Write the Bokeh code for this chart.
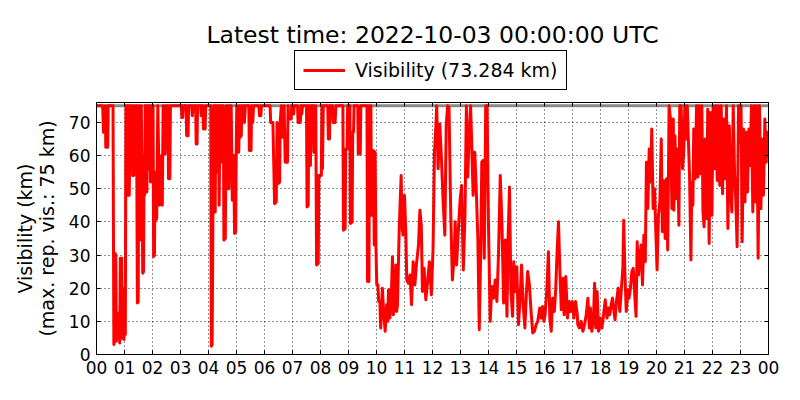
from bokeh.plotting import figure
from bokeh.layouts import column
from bokeh.models import (Range1d, FixedTicker, LinearAxis, Label, Legend, LegendItem, Span,
                          CustomJSTickFormatter)
from bokeh.embed import file_html
from bokeh.resources import INLINE

TITLE = "Latest time: 2022-10-03 00:00:00 UTC"
LEGEND_LABEL = "Visibility (73.284 km)"
Y_LABEL = "Visibility (km)\n(max. rep. vis.: 75 km)"
MAX_REPORTED = 75
X_TICKS = list(range(25))
X_TICK_LABELS = ["00", "01", "02", "03", "04", "05", "06", "07", "08", "09", "10", "11",
                 "12", "13", "14", "15", "16", "17", "18", "19", "20", "21", "22", "23", "00"]
Y_TICKS = [0, 10, 20, 30, 40, 50, 60, 70]

# (hour of day, visibility km)
vis_00_01 = [(0.00, 75), (0.22, 75), (0.25, 67), (0.30, 67), (0.32, 75), (0.33, 62.5), (0.40, 62.5),
             (0.42, 75), (0.59, 75), (0.62, 3), (0.64, 5), (0.66, 30.5), (0.69, 30), (0.71, 4),
             (0.74, 12.5), (0.77, 5), (0.80, 12.5), (0.83, 3.5), (0.85, 29), (0.90, 29), (0.92, 5),
             (0.95, 8), (0.98, 4.5), (1.01, 20), (1.03, 6), (1.05, 75)]
vis_01_02 = [(1.08, 75), (1.10, 48), (1.14, 75), (1.17, 48), (1.20, 75), (1.24, 62), (1.27, 75),
             (1.29, 54), (1.33, 54), (1.36, 75), (1.40, 60), (1.43, 75), (1.46, 15.5), (1.49, 16),
             (1.51, 75), (1.53, 50), (1.55, 34.5), (1.58, 60), (1.60, 75), (1.63, 50), (1.65, 24.5),
             (1.68, 25), (1.70, 60), (1.72, 48), (1.74, 75), (1.76, 55), (1.78, 75), (1.80, 49),
             (1.82, 65), (1.84, 75), (1.87, 56), (1.90, 75), (1.93, 52), (1.96, 75), (1.98, 62),
             (2.00, 75)]
vis_02_03 = [(2.02, 75), (2.04, 29.5), (2.07, 30), (2.09, 55), (2.11, 40.5), (2.15, 41), (2.17, 60),
             (2.19, 75), (2.22, 60), (2.25, 45), (2.30, 46), (2.33, 60), (2.35, 45), (2.38, 75),
             (2.42, 60.5), (2.45, 60.5), (2.47, 75), (2.52, 70), (2.55, 75), (2.57, 53), (2.62, 53),
             (2.64, 75), (3.03, 75), (3.05, 71.5), (3.08, 71.5), (3.10, 75), (3.20, 75), (3.22, 66),
             (3.27, 66), (3.29, 75)]
vis_03_07 = [(3.40, 75), (3.42, 72), (3.45, 75), (3.54, 75), (3.56, 63.5), (3.59, 63.5), (3.61, 75),
             (3.72, 75), (3.74, 72), (3.77, 75), (3.80, 75), (3.82, 68), (3.88, 68), (3.90, 75),
             (4.08, 75), (4.10, 2.5), (4.13, 3), (4.15, 30), (4.17, 62), (4.19, 75), (4.21, 43),
             (4.24, 43), (4.26, 75), (4.28, 55), (4.30, 75), (4.33, 58), (4.36, 75), (4.38, 45),
             (4.41, 75), (4.44, 58), (4.47, 75), (4.50, 62), (4.53, 75), (4.55, 34.5), (4.60, 35),
             (4.62, 60), (4.64, 75), (4.66, 50), (4.69, 75), (4.71, 60), (4.73, 50), (4.76, 75),
             (4.78, 58), (4.81, 75), (4.85, 46.5), (4.88, 46.5), (4.90, 60), (4.93, 36.5), (4.97, 37),
             (4.99, 61), (5.01, 75), (5.03, 61), (5.06, 68), (5.08, 61), (5.11, 75), (5.13, 65.5),
             (5.17, 66), (5.19, 75), (5.25, 75), (5.28, 70), (5.32, 75), (5.44, 75), (5.46, 61.5),
             (5.52, 61.5), (5.54, 75), (5.58, 70), (5.61, 75), (5.80, 75), (5.82, 72), (5.87, 72),
             (5.89, 75), (6.20, 75), (6.22, 70), (6.30, 70), (6.36, 45.5), (6.42, 46), (6.45, 70),
             (6.48, 51.5), (6.54, 52), (6.56, 70), (6.60, 75), (6.62, 65.5), (6.67, 65.5), (6.70, 75),
             (6.74, 58), (6.82, 58), (6.84, 75)]
vis_07_10 = [(6.86, 71), (6.95, 71), (6.97, 75), (7.00, 72.5), (7.04, 72.5), (7.06, 75), (7.18, 75),
             (7.20, 70), (7.28, 70), (7.30, 75), (7.33, 72.5), (7.36, 75), (7.50, 75), (7.52, 44.5),
             (7.56, 45), (7.58, 75), (7.60, 57), (7.64, 57), (7.66, 75), (7.74, 75), (7.76, 61),
             (7.81, 61), (7.83, 75), (7.86, 27), (7.92, 27.5), (7.94, 54), (7.98, 54), (8.03, 54),
             (8.05, 75), (8.07, 56), (8.10, 75), (8.26, 75), (8.28, 65), (8.32, 65), (8.34, 75),
             (8.43, 75), (8.45, 70), (8.52, 70), (8.55, 75), (8.80, 75), (8.82, 37.5), (8.88, 38),
             (8.90, 62), (8.95, 62), (8.97, 75), (9.05, 75), (9.07, 39.5), (9.13, 40), (9.15, 67),
             (9.18, 67), (9.20, 75), (9.33, 75), (9.35, 60.5), (9.42, 60.5), (9.44, 75), (9.66, 75),
             (9.68, 22), (9.73, 22), (9.75, 75), (9.80, 75), (9.82, 42), (9.87, 42), (9.89, 61.5),
             (9.92, 33), (9.95, 61), (9.98, 33), (10.01, 21), (10.05, 21), (10.08, 16), (10.12, 16),
             (10.15, 8)]
vis_10_14 = [(10.21, 20), (10.26, 12), (10.31, 7), (10.36, 15), (10.40, 10), (10.43, 19.5),
             (10.48, 11), (10.53, 18), (10.57, 29.5), (10.60, 12), (10.63, 14), (10.69, 27),
             (10.72, 13), (10.75, 15), (10.81, 37.5), (10.88, 54), (10.92, 38), (10.95, 36),
             (11.00, 48), (11.05, 36), (11.08, 22.5), (11.14, 21.5), (11.20, 24), (11.25, 15),
             (11.31, 28), (11.37, 21), (11.43, 27.5), (11.50, 33), (11.55, 43.5), (11.60, 39),
             (11.64, 19), (11.70, 26), (11.76, 16.5), (11.82, 21.5), (11.89, 28), (11.96, 18),
             (12.02, 32), (12.07, 61), (12.12, 69), (12.15, 75), (12.20, 56), (12.26, 69.5),
             (12.32, 59), (12.38, 46), (12.44, 36), (12.49, 69), (12.54, 75), (12.59, 74.5),
             (12.65, 43), (12.71, 22.5), (12.77, 29), (12.81, 40), (12.86, 27), (12.93, 38.5),
             (12.99, 47), (13.04, 51), (13.10, 25.5), (13.16, 42), (13.21, 75), (13.26, 53.5),
             (13.31, 66), (13.36, 75), (13.40, 64), (13.45, 48), (13.51, 61), (13.56, 50.5),
             (13.62, 35), (13.67, 7.5), (13.73, 35), (13.76, 58)]
vis_14_17 = [(13.80, 58.5), (13.85, 29), (13.90, 75), (13.95, 75), (14.00, 38.5), (14.06, 10),
             (14.12, 20.5), (14.18, 17), (14.24, 22.5), (14.30, 16), (14.36, 31), (14.42, 54),
             (14.48, 39.5), (14.54, 15.5), (14.60, 34.5), (14.66, 11.5), (14.70, 35), (14.75, 50.5),
             (14.80, 19), (14.86, 11.5), (14.90, 28), (14.95, 19), (15.01, 26.5), (15.07, 9),
             (15.13, 17), (15.18, 27), (15.24, 14.5), (15.30, 8), (15.35, 18), (15.40, 25),
             (15.46, 21), (15.52, 13), (15.58, 6.5), (15.64, 7), (15.70, 9), (15.76, 10), (15.83, 14),
             (15.88, 11), (15.93, 14.5), (15.98, 10), (16.02, 12), (16.08, 19), (16.14, 31),
             (16.19, 11), (16.24, 7), (16.29, 17), (16.35, 13), (16.40, 19.5), (16.45, 31),
             (16.50, 40), (16.55, 25), (16.60, 13.5), (16.66, 23), (16.70, 12), (16.76, 23.5),
             (16.82, 11), (16.88, 16), (16.93, 13), (16.99, 16), (17.05, 11), (17.11, 16),
             (17.17, 12)]
vis_17_20 = [(17.19, 9), (17.25, 8), (17.31, 10), (17.37, 7), (17.43, 9), (17.49, 12), (17.55, 17),
             (17.60, 8), (17.64, 14), (17.69, 7), (17.75, 11), (17.79, 21.5), (17.83, 8), (17.88, 19),
             (17.93, 7), (17.99, 11), (18.05, 8), (18.11, 12), (18.17, 16.5), (18.23, 11), (18.29, 14),
             (18.33, 12), (18.38, 15), (18.43, 17), (18.48, 13), (18.52, 10.5), (18.57, 16),
             (18.63, 20), (18.69, 13), (18.74, 19), (18.80, 26.5), (18.83, 40.5), (18.87, 25),
             (18.92, 13), (18.98, 19.5), (19.02, 17), (19.07, 20), (19.12, 25), (19.17, 26),
             (19.23, 17), (19.27, 11.5), (19.31, 34), (19.36, 24), (19.40, 29), (19.45, 33),
             (19.50, 21), (19.55, 36), (19.60, 28), (19.64, 58), (19.69, 44), (19.74, 62),
             (19.79, 52), (19.83, 68), (19.88, 44), (19.93, 50), (19.98, 36), (20.02, 25.5),
             (20.07, 42), (20.12, 46), (20.17, 65), (20.21, 37), (20.26, 52.5), (20.31, 35),
             (20.36, 53), (20.40, 31.5), (20.45, 75), (20.50, 71), (20.55, 44), (20.60, 71)]
vis_20_24 = [(20.62, 43.5), (20.66, 66), (20.70, 47), (20.75, 62), (20.80, 39), (20.83, 75),
             (20.88, 75), (20.93, 56), (20.98, 62), (21.01, 75), (21.06, 65), (21.10, 75),
             (21.13, 67), (21.18, 54), (21.23, 28.5), (21.26, 52), (21.30, 45), (21.33, 68),
             (21.38, 53), (21.43, 75), (21.48, 53.5), (21.52, 75), (21.57, 54.5), (21.62, 75),
             (21.66, 43), (21.70, 38.5), (21.74, 65), (21.79, 41), (21.83, 74), (21.88, 33.5),
             (21.93, 73), (21.98, 42), (22.02, 75), (22.07, 56), (22.12, 75), (22.17, 52.5),
             (22.21, 75), (22.26, 51), (22.31, 75), (22.36, 48.5), (22.40, 71), (22.45, 53),
             (22.50, 75), (22.55, 38), (22.60, 69), (22.64, 51), (22.69, 43), (22.74, 75),
             (22.79, 54), (22.83, 47), (22.88, 32.5), (22.93, 75), (22.98, 64), (23.02, 75),
             (23.06, 34), (23.11, 68), (23.16, 46), (23.20, 67), (23.25, 49), (23.30, 68),
             (23.35, 57), (23.39, 75), (23.44, 43), (23.49, 75), (23.54, 46), (23.58, 75),
             (23.63, 29), (23.68, 75), (23.73, 44), (23.77, 65), (23.82, 48), (23.87, 71),
             (23.92, 58), (23.96, 67), (24.00, 60)]

segments = [vis_00_01, vis_01_02, vis_02_03, vis_03_07, vis_07_10,
            vis_10_14, vis_14_17, vis_17_20, vis_20_24]
hours = [h for seg in segments for h, _ in seg]
visibility = [v for seg in segments for _, v in seg]

FONT = "DejaVu Sans"
RED = "#ff0000"
W = 784
HEAD_H = 94
LEFT = 96
RIGHT = 16
FRAME_W = W - LEFT - RIGHT

# ---- header: title + legend (frame aligned with the main plot's frame) ----
head = figure(width=W, height=HEAD_H, output_backend="svg", toolbar_location=None,
              x_range=Range1d(0, 1), y_range=Range1d(0, 1),
              x_axis_location=None, y_axis_location=None,
              min_border_left=LEFT, min_border_right=RIGHT, min_border_top=0,
              min_border_bottom=0,
              outline_line_color=None, background_fill_color="white", border_fill_color="white")
head.grid.visible = False
proxy = head.line(x=[float("nan")], y=[float("nan")], line_color=RED, line_width=3)
head.add_layout(Label(x=FRAME_W / 2, y=HEAD_H - 34, x_units="screen", y_units="screen",
                      text=TITLE, text_align="center", text_baseline="alphabetic",
                      text_font=FONT, text_font_size="23.5px", text_color="black"))
legend = Legend(items=[LegendItem(label=LEGEND_LABEL, renderers=[proxy])],
                location=(294 - LEFT, HEAD_H - 90), margin=0, padding=8, spacing=0,
                glyph_width=42, glyph_height=18, label_standoff=10,
                label_text_font=FONT, label_text_font_size="19px", label_text_color="black",
                border_line_color="black", border_line_width=1, border_line_alpha=1,
                background_fill_color="white", background_fill_alpha=1)
head.add_layout(legend)

# ---- main plot ----
p = figure(width=W, height=384 - HEAD_H, output_backend="svg", toolbar_location=None,
           x_range=Range1d(0, 24), y_range=Range1d(0, 76),
           min_border_left=LEFT, min_border_right=RIGHT, min_border_top=102 - HEAD_H,
           min_border_bottom=30,
           background_fill_color="white", border_fill_color="white")
p.outline_line_color = "black"
p.outline_line_width = 1

x_ticker = FixedTicker(ticks=X_TICKS)
y_ticker = FixedTicker(ticks=Y_TICKS)
p.xaxis.ticker = x_ticker
p.yaxis.ticker = y_ticker
p.xgrid.ticker = x_ticker
p.ygrid.ticker = y_ticker
p.xaxis.major_label_overrides = {i: lab for i, lab in zip(X_TICKS, X_TICK_LABELS)}

for ax in (p.xaxis[0], p.yaxis[0]):
    ax.axis_line_color = "black"
    ax.major_tick_in = 4
    ax.major_tick_out = 0
    ax.minor_tick_in = 0
    ax.minor_tick_out = 0
    ax.major_tick_line_color = "black"
    ax.major_label_text_font = FONT
    ax.major_label_text_font_size = "17px"
    ax.major_label_text_color = "black"
    ax.major_label_standoff = 6

p.yaxis.axis_label = Y_LABEL
p.yaxis.axis_label_text_font = FONT
p.yaxis.axis_label_text_font_size = "19px"
p.yaxis.axis_label_text_font_style = "normal"
p.yaxis.axis_label_text_color = "black"
p.yaxis.axis_label_text_line_height = 1.0
p.yaxis.axis_label_standoff = 8

blank = CustomJSTickFormatter(code="return ''")
for loc, tk in (("above", x_ticker), ("right", y_ticker)):
    ax = LinearAxis(ticker=tk, formatter=blank, major_tick_in=4, major_tick_out=0,
                    minor_tick_in=0, minor_tick_out=0, axis_line_color="black",
                    major_tick_line_color="black", major_label_standoff=0)
    p.add_layout(ax, loc)

p.grid.grid_line_color = "black"
p.grid.grid_line_dash = "1 3"
p.grid.grid_line_width = 1
p.grid.grid_line_alpha = 0.85

p.add_layout(Span(location=MAX_REPORTED, dimension="width", line_color="#8a8a8a",
                  line_width=3, level="underlay"))

p.line(hours, visibility, line_color=RED, line_width=3, line_join="round")

layout = column(head, p, spacing=0)
open("out.html", "w").write(file_html(layout, INLINE))
